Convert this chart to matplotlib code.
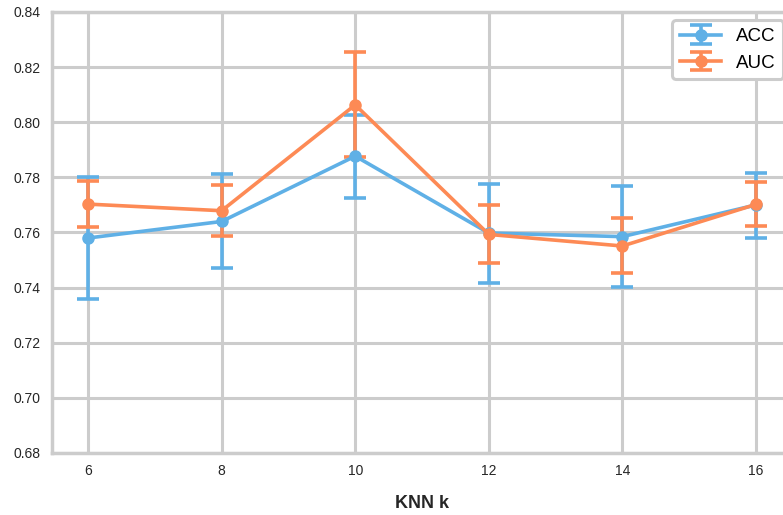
import matplotlib.pyplot as plt
import numpy as np

# KNN neighbours vs. mean score, error bars are the lower / upper limits
k_values = [6, 8, 10, 12, 14, 16]
acc_mean = [0.758, 0.764, 0.7877, 0.7598, 0.7585, 0.770]
acc_low = [0.736, 0.7471, 0.7724, 0.7418, 0.7403, 0.7581]
acc_high = [0.780, 0.7813, 0.8026, 0.7776, 0.7769, 0.7815]
auc_mean = [0.7703, 0.7679, 0.8063, 0.7593, 0.7551, 0.7702]
auc_low = [0.7619, 0.7588, 0.7873, 0.7488, 0.7452, 0.7623]
auc_high = [0.7788, 0.7772, 0.8256, 0.770, 0.7651, 0.7784]

blue = '#5fb0e6'
orange = '#fd8a55'

plt.rcParams['font.family'] = ['Liberation Sans', 'DejaVu Sans']

fig = plt.figure(figsize=(7.83, 5.15), dpi=100)
ax = fig.add_axes([0.0664, 0.1204, 0.946, 0.8563])

for mean, low, high, color, label in [
        (acc_mean, acc_low, acc_high, blue, "ACC"),
        (auc_mean, auc_low, auc_high, orange, "AUC")]:
    mean = np.array(mean)
    yerr = [mean - np.array(low), np.array(high) - mean]
    ax.errorbar(k_values, mean, yerr=yerr, color=color, lw=2.6,
                marker='o', markersize=8, capsize=8, capthick=2.6,
                elinewidth=2.6, label=label)

ax.set_xlim(5.46, 16.55)
ax.set_ylim(0.68, 0.84)
ax.set_xticks(k_values)
ax.set_yticks(np.arange(0.68, 0.8401, 0.02))
ax.yaxis.set_major_formatter(plt.FormatStrFormatter('%.2f'))
ax.grid(True, color='#cccccc', lw=2.2)
ax.set_axisbelow(True)
for s in ax.spines.values():
    s.set_color('#cccccc')
    s.set_linewidth(2.5)
ax.tick_params(length=0, labelsize=10, colors='#262626', pad=8)
ax.set_xlabel("KNN k", fontsize=13, fontweight='bold', color='#262626', labelpad=12)

leg = ax.legend(loc='upper right', bbox_to_anchor=(1.0, 1.002), fontsize=13.5,
                frameon=True, fancybox=True, handlelength=2.2)
leg.get_frame().set_edgecolor('#cccccc')
leg.get_frame().set_linewidth(2.2)
leg.get_frame().set_alpha(1)

plt.savefig("out.png", dpi=100)
